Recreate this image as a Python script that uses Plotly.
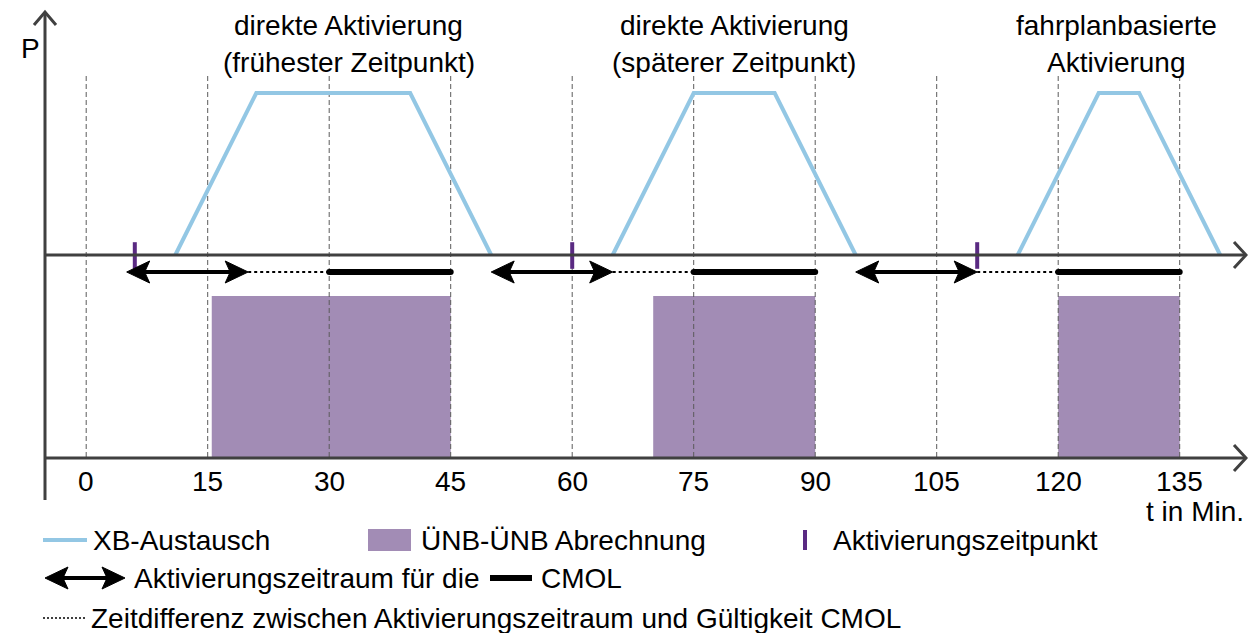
import plotly.graph_objects as go

# ---------------- data ----------------
tick_values = [0, 15, 30, 45, 60, 75, 90, 105, 120, 135]
tick_labels = ["0", "15", "30", "45", "60", "75", "90", "105", "120", "135"]

xb_t = [[11, 21, 40, 50], [65, 75, 85, 95], [115, 125, 130, 140]]
xb_p = [[0, 1, 1, 0], [0, 1, 1, 0], [0, 1, 1, 0]]

activation_times = [6, 60, 110]
activation_start = [5, 50, 95]
activation_end = [20, 65, 110]
cmol_start = [30, 75, 120]
cmol_end = [45, 90, 135]
settle_start = [15.5, 70, 120]
settle_end = [45, 90, 135]

title_line1 = ["direkte Aktivierung", "direkte Aktivierung", "fahrplanbasierte"]
title_line2 = ["(frühester Zeitpunkt)", "(späterer Zeitpunkt)", "Aktivierung"]
title_center = [32.4, 80, 127.2]

legend_labels = ["XB-Austausch", "ÜNB-ÜNB Abrechnung", "Aktivierungszeitpunkt",
                 "Aktivierungszeitraum für die", "CMOL",
                 "Zeitdifferenz zwischen Aktivierungszeitraum und Gültigkeit CMOL"]

# ---------------- layout helpers ----------------
W, H = 1248, 633
X0_PX, PX_PER_MIN = 86.2, 8.1
Y0_PX, PX_PER_P = 255.0, 162.0


def tx(px):
    return (px - X0_PX) / PX_PER_MIN


def py(px):
    return (Y0_PX - px) / PX_PER_P


def t2px(t):
    return X0_PX + t * PX_PER_MIN


FONT = "Arial, Liberation Sans, sans-serif"
AXIS_COL = "#404040"
BLUE = "#93c7e4"
PURPLE_FILL = "#a28cb5"
PURPLE_DARK = "#5a2a82"

fig = go.Figure()
shapes = []
annotations = []

# settlement rectangles
for s, e in zip(settle_start, settle_end):
    shapes.append(dict(type="rect", xref="x", yref="y", x0=s, x1=e, y0=py(458), y1=py(296),
                       fillcolor=PURPLE_FILL, line=dict(width=0), layer="below"))

# dashed gridlines
for t in tick_values:
    shapes.append(dict(type="line", xref="x", yref="y", x0=t, x1=t, y0=py(76), y1=py(458),
                       line=dict(color="#5a5a5a", width=1, dash="5px,3px"), layer="below"))

# XB exchange trapezoids
for ts, ps in zip(xb_t, xb_p):
    fig.add_trace(go.Scatter(x=ts, y=ps, mode="lines", line=dict(color=BLUE, width=4),
                             hoverinfo="skip", showlegend=False))


# axes (drawn as shapes)
def chevron_right(x_px, y_px):
    return (f"M{tx(x_px-12)},{py(y_px-13)} L{tx(x_px)},{py(y_px)} L{tx(x_px-12)},{py(y_px+13)}")


shapes.append(dict(type="line", xref="x", yref="y", x0=tx(45), x1=tx(1246), y0=py(255), y1=py(255),
                   line=dict(color=AXIS_COL, width=3)))
shapes.append(dict(type="path", xref="x", yref="y", path=chevron_right(1246, 255),
                   line=dict(color=AXIS_COL, width=3)))
shapes.append(dict(type="line", xref="x", yref="y", x0=tx(45), x1=tx(1246), y0=py(458), y1=py(458),
                   line=dict(color=AXIS_COL, width=3)))
shapes.append(dict(type="path", xref="x", yref="y", path=chevron_right(1246, 458),
                   line=dict(color=AXIS_COL, width=3)))
shapes.append(dict(type="line", xref="x", yref="y", x0=tx(45), x1=tx(45), y0=py(500), y1=py(12),
                   line=dict(color=AXIS_COL, width=3)))
shapes.append(dict(type="path", xref="x", yref="y",
                   path=f"M{tx(34)},{py(25)} L{tx(45)},{py(12)} L{tx(56)},{py(25)}",
                   line=dict(color=AXIS_COL, width=3)))


# double arrows
def head_path(tip_px, y_px, d):
    L, Hh, N = 23, 11, 18
    pts = [(tip_px, y_px), (tip_px - d * L, y_px - Hh), (tip_px - d * N, y_px),
           (tip_px - d * L, y_px + Hh)]
    return "M" + " L".join(f"{tx(a)},{py(b)}" for a, b in pts) + " Z"


def double_arrow(x0_px, x1_px, y_px):
    shapes.append(dict(type="line", xref="x", yref="y", x0=tx(x0_px + 16), x1=tx(x1_px - 16),
                       y0=py(y_px), y1=py(y_px), line=dict(color="black", width=4)))
    shapes.append(dict(type="path", xref="x", yref="y", path=head_path(x0_px, y_px, -1),
                       fillcolor="black", line=dict(color="black", width=1)))
    shapes.append(dict(type="path", xref="x", yref="y", path=head_path(x1_px, y_px, 1),
                       fillcolor="black", line=dict(color="black", width=1)))


ROW_PX = 272
for s, e in zip(activation_start, activation_end):
    double_arrow(t2px(s), t2px(e), ROW_PX)

# dotted gaps
gx, gy = [], []
for s, e in zip(activation_end, cmol_start):
    gx += [s, e, None]
    gy += [py(ROW_PX), py(ROW_PX), None]
fig.add_trace(go.Scatter(x=gx, y=gy, mode="lines", line=dict(color="black", width=2, dash="dot"),
                         hoverinfo="skip", showlegend=False))

# CMOL thick lines
cx, cy = [], []
for s, e in zip(cmol_start, cmol_end):
    cx += [s, e, None]
    cy += [py(ROW_PX), py(ROW_PX), None]
fig.add_trace(go.Scatter(x=cx, y=cy, mode="lines+markers", line=dict(color="black", width=6),
                         marker=dict(size=6, color="black"), hoverinfo="skip", showlegend=False))

# activation markers
fig.add_trace(go.Scatter(x=activation_times, y=[py(255.5)] * len(activation_times), mode="markers",
                         marker=dict(symbol="line-ns", size=19,
                                     line=dict(width=4, color=PURPLE_DARK)),
                         hoverinfo="skip", showlegend=False))


def text(x, y, s, xanchor="center", size=28):
    annotations.append(dict(x=x, y=y, xref="x", yref="y", text=s, showarrow=False,
                            xanchor=xanchor, yanchor="middle",
                            font=dict(family=FONT, size=size, color="black")))


# tick labels
for t, lab in zip(tick_values, tick_labels):
    text(t, py(481), lab)

text(tx(30), py(48), "P")
text(tx(1246), py(511), "t in Min.", xanchor="right")

# titles
for c, l1, l2 in zip(title_center, title_line1, title_line2):
    text(c, py(25), l1)
    text(c, py(62), l2)

# legend
shapes.append(dict(type="line", xref="x", yref="y", x0=tx(43), x1=tx(87), y0=py(540), y1=py(540),
                   line=dict(color=BLUE, width=4)))
text(tx(91), py(540), legend_labels[0], xanchor="left")
shapes.append(dict(type="rect", xref="x", yref="y", x0=tx(368), x1=tx(411), y0=py(551), y1=py(529),
                   fillcolor=PURPLE_FILL, line=dict(width=0)))
text(tx(419), py(540), legend_labels[1], xanchor="left")
shapes.append(dict(type="line", xref="x", yref="y", x0=tx(805), x1=tx(805), y0=py(530), y1=py(550),
                   line=dict(color=PURPLE_DARK, width=4)))
text(tx(831), py(540), legend_labels[2], xanchor="left")

double_arrow(45, 125, 578)
text(tx(132), py(578), legend_labels[3], xanchor="left")
shapes.append(dict(type="line", xref="x", yref="y", x0=tx(490), x1=tx(532), y0=py(578), y1=py(578),
                   line=dict(color="black", width=6)))
text(tx(539), py(578), legend_labels[4], xanchor="left")

shapes.append(dict(type="line", xref="x", yref="y", x0=tx(43), x1=tx(85), y0=py(618), y1=py(618),
                   line=dict(color="black", width=1.5, dash="2px,2px")))
text(tx(89), py(618), legend_labels[5], xanchor="left")

fig.update_layout(
    width=W, height=H, margin=dict(l=0, r=0, t=0, b=0),
    paper_bgcolor="white", plot_bgcolor="white", showlegend=False,
    xaxis=dict(range=[tx(0), tx(W)], visible=False, fixedrange=True),
    yaxis=dict(range=[py(H), py(0)], visible=False, fixedrange=True),
    shapes=shapes, annotations=annotations,
)

fig.write_html("out.html", post_script="document.body.style.margin='0';",
               config={"displayModeBar": False})
